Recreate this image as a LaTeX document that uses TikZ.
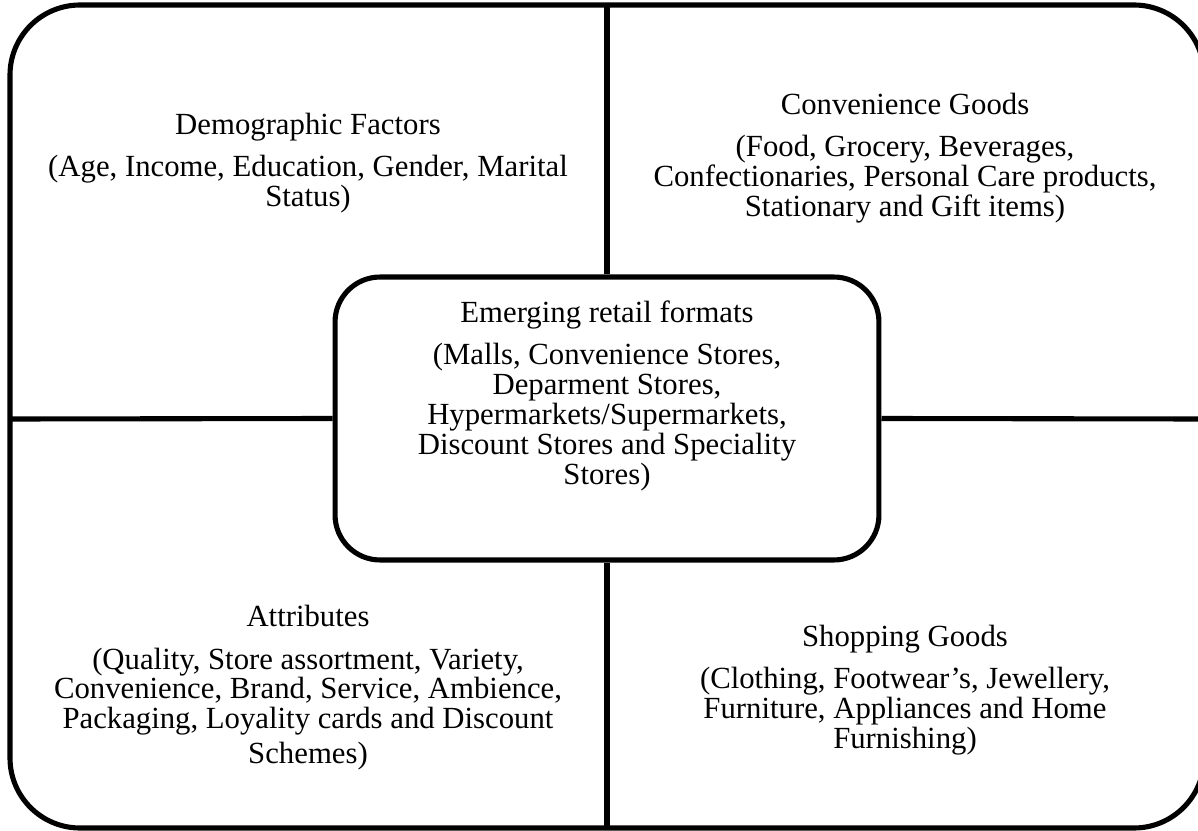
\documentclass[tikz,border=0pt]{standalone}
\usepackage{fontspec}
\setmainfont{Liberation Serif}

\tikzset{
  frame/.style={line width=2.9pt},
  quad/.style={align=center, font=\fontsize{17.5}{17}\selectfont},
  hub/.style={draw, line width=2.9pt, rounded corners=0.9cm, fill=white,
    minimum width=10.88cm, minimum height=5.66cm}
}

\begin{document}
\begin{tikzpicture}[x=0.02cm,y=-0.02cm]
\useasboundingbox (0,0) rectangle (1198,831);
\clip (0,0) rectangle (1198,831);

% outer frame and the cross
\draw[frame, rounded corners=1.4cm] (10,5) rectangle (1204,828);
\node[hub] (fmt) at (607,418.5) {};
\coordinate (top) at (607,5);
\coordinate (bottom) at (607,828);
\coordinate (left) at (10,419);
\coordinate (right) at (1204,419);
\draw[frame] (top) -- (fmt.north);
\draw[frame] (fmt.south) -- (bottom);
\draw[frame] (left) -- (fmt.west);
\draw[frame] (fmt.east) -- (right);

% texts
\node[quad] (fmttxt) at (607,396) {Emerging retail formats\\[7pt]
  (Malls, Convenience Stores,\\ Deparment Stores,\\ Hypermarkets/Supermarkets,\\
  Discount Stores and Speciality\\ Stores)};
\node[quad] (demo) at (308,163) {Demographic Factors\\[7pt]
  (Age, Income, Education, Gender, Marital\\ Status)};
\node[quad] (conv) at (905,158) {Convenience Goods\\[7pt]
  (Food, Grocery, Beverages,\\ Confectionaries, Personal Care products,\\
  Stationary and Gift items)};
\node[quad] (attr) at (308,688) {Attributes\\[7pt]
  (Quality, Store assortment, Variety,\\ Convenience, Brand, Service, Ambience,\\
  Packaging, Loyality cards and Discount\\[3pt] Schemes)};
\node[quad] (shop) at (905,690) {Shopping Goods\\[7pt]
  (Clothing, Footwear's, Jewellery,\\ Furniture, Appliances and Home\\
  Furnishing)};
\end{tikzpicture}
\end{document}
